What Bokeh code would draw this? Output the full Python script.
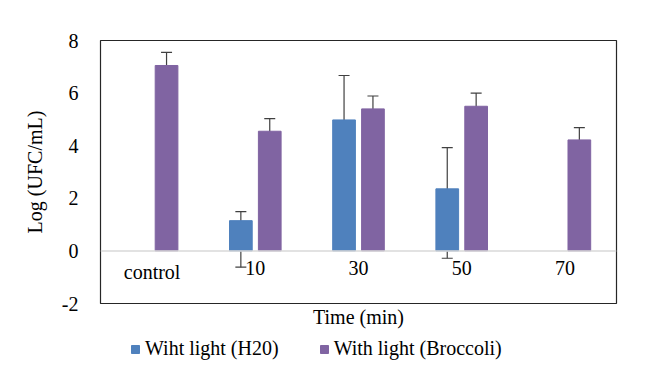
from bokeh.plotting import figure
from bokeh.layouts import column
from bokeh.models import (ColumnDataSource, Whisker, Legend, LegendItem, Title, FixedTicker,
                          Range1d, Span, LabelSet)
from bokeh.embed import file_html
from bokeh.resources import INLINE

categories = ["control", "10", "30", "50", "70"]
h2o_cats = ["10", "30", "50"]
h2o_values = [1.15, 4.98, 2.36]
h2o_err_up = [0.34, 1.69, 1.57]
h2o_err_down = [1.77, 1.92, 2.64]
broc_values = [7.05, 4.55, 5.40, 5.50, 4.22]
broc_err = [0.50, 0.48, 0.49, 0.50, 0.47]
y_ticks = [-2, 0, 2, 4, 6, 8]
y_tick_labels = ["-2", "0", "2", "4", "6", "8"]

BLUE = "#4F81BD"
PURPLE = "#8064A2"
FONT = "Liberation Serif"
FS = "20px"

idx = {c: i for i, c in enumerate(categories)}
off = 0.14
bw = 0.22

h2o_x = [idx[c] - off for c in h2o_cats]
broc_x = [i + off for i in range(len(categories))]

src_h = ColumnDataSource(dict(
    x=h2o_x, top=h2o_values,
    upper=[v + e for v, e in zip(h2o_values, h2o_err_up)],
    lower=[v - e for v, e in zip(h2o_values, h2o_err_down)],
))
src_b = ColumnDataSource(dict(
    x=broc_x, top=broc_values,
    upper=[v + e for v, e in zip(broc_values, broc_err)],
    lower=[v - e for v, e in zip(broc_values, broc_err)],
))
src_cat = ColumnDataSource(dict(x=list(range(len(categories))), y=[0] * len(categories),
                                text=categories))

p = figure(width=644, height=333,
           x_range=Range1d(-0.5, 4.5), y_range=Range1d(-2, 8),
           output_backend="svg", toolbar_location=None, x_axis_location=None,
           min_border_left=100, min_border_right=28, min_border_top=40, min_border_bottom=30)
p.xgrid.visible = False
p.ygrid.visible = False
p.outline_line_color = "#262626"
p.outline_line_width = 1.2

# zero line
p.add_layout(Span(location=0, dimension="width", line_color="#d9d9d9", line_width=1.5))

r1 = p.vbar(x="x", top="top", width=bw, bottom=0, source=src_h, fill_color=BLUE, line_color=BLUE)
r2 = p.vbar(x="x", top="top", width=bw, bottom=0, source=src_b, fill_color=PURPLE, line_color=PURPLE)

for src in (src_h, src_b):
    w = Whisker(source=src, base="x", upper="upper", lower="lower",
                line_color="#404040", line_width=1.2)
    w.upper_head.size = 11
    w.lower_head.size = 11
    w.upper_head.line_color = "#404040"
    w.lower_head.line_color = "#404040"
    w.upper_head.line_width = 1.2
    w.lower_head.line_width = 1.2
    p.add_layout(w)

# category labels just below the zero line
p.add_layout(LabelSet(x="x", y="y", text="text", source=src_cat, y_offset=-10,
                      text_align="center", text_baseline="top", text_font=FONT,
                      text_font_size=FS, text_color="black"))

# y axis
p.yaxis.ticker = FixedTicker(ticks=y_ticks)
p.yaxis.major_label_overrides = {t: s for t, s in zip(y_ticks, y_tick_labels)}
p.yaxis.axis_line_color = None
p.yaxis.major_tick_line_color = None
p.yaxis.minor_tick_line_color = None
p.yaxis.major_label_standoff = 16
p.yaxis.major_label_text_font = FONT
p.yaxis.major_label_text_font_size = FS
p.yaxis.major_label_text_color = "black"
p.yaxis.axis_label = "Log (UFC/mL)"
p.yaxis.axis_label_text_font = FONT
p.yaxis.axis_label_text_font_size = FS
p.yaxis.axis_label_text_font_style = "normal"
p.yaxis.axis_label_text_color = "black"
p.yaxis.axis_label_standoff = 13

t = Title(text="Time (min)", align="center", text_font=FONT, text_font_size=FS,
          text_font_style="normal", text_color="black", standoff=0)
p.add_layout(t, "below")

# legend strip underneath (its bars lie outside its view; only the legend shows)
p2 = figure(width=644, height=36, x_range=Range1d(-0.5, 4.5), y_range=Range1d(100, 101),
            output_backend="svg", toolbar_location=None,
            x_axis_location=None, y_axis_location=None,
            min_border_left=0, min_border_right=0, min_border_top=0, min_border_bottom=0)
p2.xgrid.visible = False
p2.ygrid.visible = False
p2.outline_line_color = None
l1 = p2.vbar(x="x", top="top", width=bw, bottom=0, source=src_h, fill_color=BLUE, line_color=BLUE)
l2 = p2.vbar(x="x", top="top", width=bw, bottom=0, source=src_b, fill_color=PURPLE, line_color=PURPLE)

legend = Legend(items=[LegendItem(label="Wiht light (H20)", renderers=[l1]),
                       LegendItem(label="With light (Broccoli)", renderers=[l2])],
                orientation="horizontal", location=(30, 9),
                label_text_font=FONT, label_text_font_size=FS, label_text_color="black",
                glyph_width=10, glyph_height=10, label_height=20, spacing=40, label_standoff=5,
                border_line_color=None, background_fill_alpha=0, padding=2, margin=0)
p2.add_layout(legend)

layout = column(p, p2, spacing=0)
open("out.html", "w").write(file_html(layout, INLINE))
